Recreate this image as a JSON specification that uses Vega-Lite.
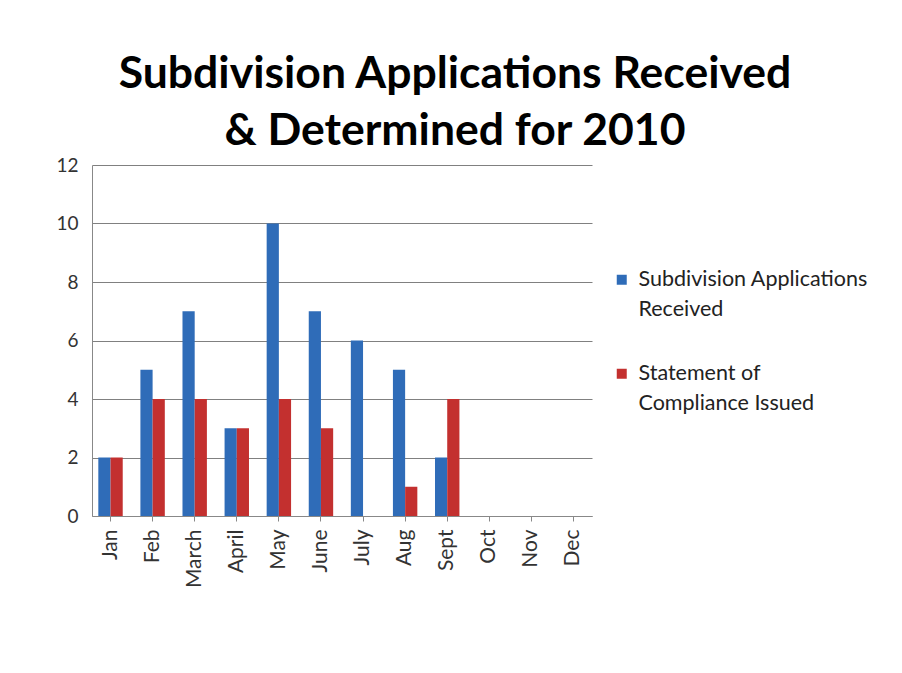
{
  "$schema": "https://vega.github.io/schema/vega-lite/v6.json",
  "autosize": "none",
  "width": 500,
  "height": 351,
  "padding": {"left": 92, "top": 165, "right": 310, "bottom": 157},
  "background": "white",
  "title": {
    "text": ["Subdivision Applications Received", "& Determined for 2010"],
    "font": "Lato",
    "fontSize": 44.5,
    "fontWeight": "bold",
    "color": "#000000",
    "anchor": "middle",
    "frame": "group",
    "dx": 113,
    "lineHeight": 57,
    "offset": 2
  },
  "data": {
    "values": [
      {"month": "Jan", "series": "Subdivision Applications Received", "value": 2},
      {"month": "Jan", "series": "Statement of Compliance Issued", "value": 2},
      {"month": "Feb", "series": "Subdivision Applications Received", "value": 5},
      {"month": "Feb", "series": "Statement of Compliance Issued", "value": 4},
      {"month": "March", "series": "Subdivision Applications Received", "value": 7},
      {"month": "March", "series": "Statement of Compliance Issued", "value": 4},
      {"month": "April", "series": "Subdivision Applications Received", "value": 3},
      {"month": "April", "series": "Statement of Compliance Issued", "value": 3},
      {"month": "May", "series": "Subdivision Applications Received", "value": 10},
      {"month": "May", "series": "Statement of Compliance Issued", "value": 4},
      {"month": "June", "series": "Subdivision Applications Received", "value": 7},
      {"month": "June", "series": "Statement of Compliance Issued", "value": 3},
      {"month": "July", "series": "Subdivision Applications Received", "value": 6},
      {"month": "July", "series": "Statement of Compliance Issued", "value": 0},
      {"month": "Aug", "series": "Subdivision Applications Received", "value": 5},
      {"month": "Aug", "series": "Statement of Compliance Issued", "value": 1},
      {"month": "Sept", "series": "Subdivision Applications Received", "value": 2},
      {"month": "Sept", "series": "Statement of Compliance Issued", "value": 4},
      {"month": "Oct", "series": "Subdivision Applications Received", "value": 0},
      {"month": "Oct", "series": "Statement of Compliance Issued", "value": 0},
      {"month": "Nov", "series": "Subdivision Applications Received", "value": 0},
      {"month": "Nov", "series": "Statement of Compliance Issued", "value": 0},
      {"month": "Dec", "series": "Subdivision Applications Received", "value": 0},
      {"month": "Dec", "series": "Statement of Compliance Issued", "value": 0}
    ]
  },
  "mark": {"type": "bar", "stroke": null},
  "encoding": {
    "x": {
      "field": "month",
      "type": "nominal",
      "sort": null,
      "scale": {"paddingInner": 0.42, "paddingOuter": 0.15},
      "axis": {
        "title": null,
        "labelAngle": -90,
        "labelFont": "Lato",
        "labelFontSize": 21,
        "labelColor": "#333333",
        "labelPadding": 8,
        "domainColor": "#888888",
        "tickColor": "#888888",
        "tickSize": 5,
        "grid": false
      }
    },
    "xOffset": {
      "field": "series",
      "type": "nominal",
      "sort": ["Subdivision Applications Received", "Statement of Compliance Issued"],
      "scale": {"paddingInner": 0}
    },
    "y": {
      "field": "value",
      "type": "quantitative",
      "scale": {"domain": [0, 12]},
      "axis": {
        "title": null,
        "values": [0, 2, 4, 6, 8, 10, 12],
        "labelFont": "Lato",
        "labelFontSize": 19,
        "labelColor": "#333333",
        "labelPadding": 14,
        "domainColor": "#888888",
        "ticks": false,
        "gridColor": "#808080",
        "gridWidth": 1
      }
    },
    "color": {
      "field": "series",
      "type": "nominal",
      "sort": ["Subdivision Applications Received", "Statement of Compliance Issued"],
      "scale": {
        "domain": ["Subdivision Applications Received", "Statement of Compliance Issued"],
        "range": ["#2f6cb8", "#c3302f"]
      },
      "legend": {
        "title": null,
        "orient": "none",
        "legendX": 519,
        "legendY": 104,
        "symbolType": "square",
        "symbolSize": 100,
        "symbolStrokeWidth": 0,
        "labelFont": "Lato",
        "labelFontSize": 21.5,
        "labelColor": "#222222",
        "labelLimit": 400,
        "labelOffset": 6,
        "rowPadding": 41,
        "labelExpr": "datum.label == 'Subdivision Applications Received' ? ['Subdivision Applications', 'Received'] : ['Statement of', 'Compliance Issued']"
      }
    }
  },
  "config": {
    "view": {"stroke": null},
    "style": {"guide-label": {"lineHeight": 30}}
  }
}
